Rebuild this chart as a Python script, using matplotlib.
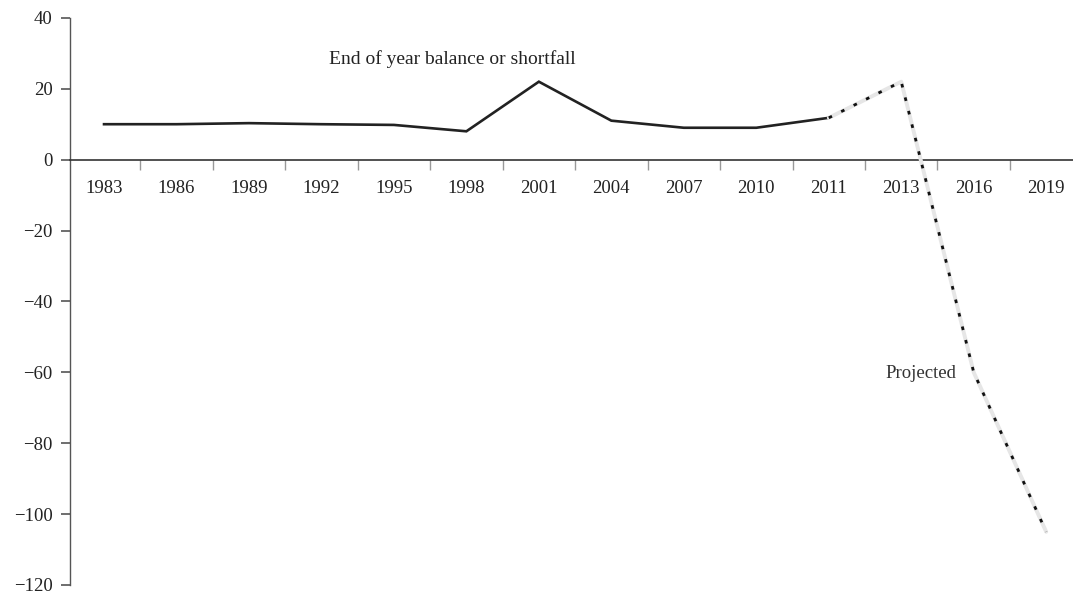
import matplotlib
matplotlib.use("Agg")
import matplotlib.pyplot as plt
from matplotlib.ticker import FixedLocator, NullFormatter, FixedFormatter

years = ["1983", "1986", "1989", "1992", "1995", "1998", "2001", "2004",
         "2007", "2010", "2011", "2013", "2016", "2019"]
actual_years = ["1983", "1986", "1989", "1992", "1995", "1998", "2001",
                "2004", "2007", "2010", "2011"]
actual_values = [10, 10, 10.3, 10, 9.8, 8, 22, 11, 9, 9, 11.8]
projected_years = ["2011", "2013", "2016", "2019"]
projected_values = [11.8, 22, -60, -105]
y_ticks = [40, 20, 0, -20, -40, -60, -80, -100, -120]

plt.rcParams['font.family'] = ['Liberation Serif', 'DejaVu Serif']
plt.rcParams['lines.scale_dashes'] = False

fig = plt.figure(figsize=(10.73, 5.96), dpi=100)
ax = fig.add_axes([0.0652, 0.0185, 0.9348, 0.9515])

pos = {y: i for i, y in enumerate(years)}
ax_x = [pos[y] for y in actual_years]
pr_x = [pos[y] for y in projected_years]

ax.plot(ax_x, actual_values, color='#222222', lw=1.9, solid_joinstyle='miter', zorder=3)
ax.plot(pr_x, projected_values, color='#e6e6e6', lw=2.8, solid_capstyle='round', zorder=3)
ax.plot(pr_x, projected_values, color='#111111', lw=2.0, linestyle=(0, (2.6, 7.4)), zorder=4)

ax.set_xlim(-0.47, 13.37)
ax.set_ylim(-120, 40)

for s in ['top', 'right']:
    ax.spines[s].set_visible(False)
ax.spines['left'].set_color('#555555')
ax.spines['left'].set_linewidth(1.0)
ax.spines['bottom'].set_position(('data', 0))
ax.spines['bottom'].set_color('#333333')
ax.spines['bottom'].set_linewidth(1.2)

ax.xaxis.set_major_locator(FixedLocator([i + 0.5 for i in range(len(years) - 1)]))
ax.xaxis.set_major_formatter(NullFormatter())
ax.xaxis.set_minor_locator(FixedLocator(list(range(len(years)))))
ax.xaxis.set_minor_formatter(FixedFormatter(years))
ax.tick_params(axis='x', which='major', length=7, width=1.0, color='#999999', direction='out')
ax.tick_params(axis='x', which='minor', length=0, pad=15, labelsize=13.5, labelcolor='#222222')

ax.set_yticks(y_ticks)
ax.tick_params(axis='y', length=6.5, width=1.2, color='#555555', pad=6, labelsize=13.5,
               labelcolor='#222222')

ax.text(4.81, 28.5, "End of year balance or shortfall", ha='center', va='center',
        fontsize=14, color='#222222')
ax.text(11.76, -60.3, "Projected", ha='right', va='center', fontsize=13.5, color='#333333')

fig.savefig("out.png", dpi=100)
